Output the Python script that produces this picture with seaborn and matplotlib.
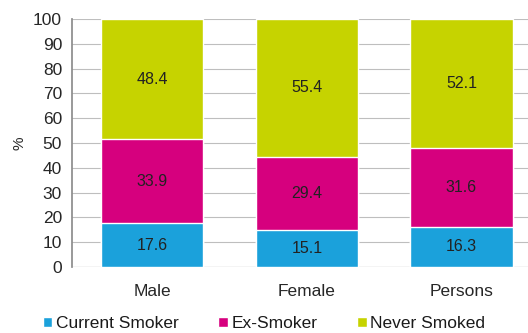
import matplotlib

matplotlib.use("Agg")

import matplotlib.pyplot as plt
import numpy as np
import pandas as pd
import seaborn as sns
from matplotlib.patches import Patch

categories = ["Male", "Female", "Persons"]
current_smoker = [17.6, 15.1, 16.3]
ex_smoker = [33.9, 29.4, 31.6]
never_smoked = [48.4, 55.4, 52.1]

series_names = ["Current Smoker", "Ex-Smoker", "Never Smoked"]
colors = ["#1BA1DB", "#D6007E", "#C6D300"]

sns.set_theme(style="white")
plt.rcParams.update({
    "font.family": ["Liberation Sans", "DejaVu Sans"],
    "axes.edgecolor": "#8C8C8C",
    "text.color": "#1A1A1A",
})

df = pd.DataFrame({
    "group": categories,
    "current": current_smoker,
    "ex": ex_smoker,
    "never": never_smoked,
})
df["c1"] = df["current"]
df["c2"] = df["current"] + df["ex"]
df["c3"] = df["c2"] + df["never"]

fig = plt.figure(figsize=(5.28, 3.33), dpi=100)
ax = fig.add_axes([0.136, 0.198, 0.864, 0.745])

# draw cumulative totals back to front so they stack
for col, color in zip(["c3", "c2", "c1"], colors[::-1]):
    sns.barplot(data=df, x="group", y=col, color=color, width=0.66,
                saturation=1, ax=ax, zorder=3)

for i, row in df.iterrows():
    bottoms = [0, row["c1"], row["c2"]]
    for b, v in zip(bottoms, [row["current"], row["ex"], row["never"]]):
        ax.text(i, b + v / 2, f"{v:.1f}", ha="center", va="center",
                fontsize=11.5, color="#222222", zorder=4)

ax.set_ylim(0, 100)
ax.set_yticks(np.arange(0, 101, 10))
ax.set_xlim(-0.52, 2.43)
ax.yaxis.grid(True, color="#BEBEBE", linewidth=0.8, zorder=0)
ax.set_axisbelow(True)
for s in ["top", "right", "bottom"]:
    ax.spines[s].set_visible(False)
ax.spines["left"].set_color("#8C8C8C")
ax.axhline(0, color="#8C8C8C", linewidth=0.8, zorder=2)

ax.set_xticks(range(len(categories)))
ax.set_xticklabels(categories, fontsize=12.5)
ax.set_xticks([0.5, 1.5], minor=True)
ax.tick_params(axis="x", which="major", length=0, pad=12)
ax.tick_params(axis="x", which="minor", length=4, color="#8C8C8C", direction="out")
ax.tick_params(axis="y", length=5, color="#8C8C8C", direction="out", labelsize=12.5, pad=2)
ax.set_xlabel("")
ax.set_ylabel("%", fontsize=11, labelpad=5)

handles = [Patch(facecolor=c, label=n) for c, n in zip(colors, series_names)]
fig.legend(handles=handles, loc="center", bbox_to_anchor=(0.5, 0.028),
           ncol=3, frameon=False, fontsize=12.5, handlelength=0.55,
           handleheight=0.55, handletextpad=0.2, columnspacing=2.3,
           borderpad=0)

fig.savefig("out.png", dpi=100, facecolor="white")
